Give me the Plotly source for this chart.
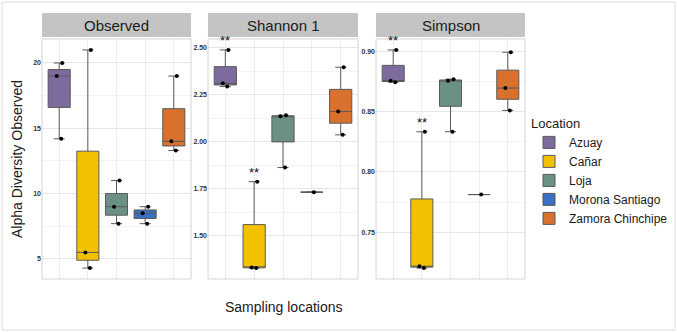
import plotly.graph_objects as go

W, H = 677, 332

locations = ["Azuay", "Cañar", "Loja", "Morona Santiago", "Zamora Chinchipe"]
colors = ["#7D6B9D", "#F2C200", "#6B9186", "#3A6FC4", "#D8702E"]
panels = ["Observed", "Shannon 1", "Simpson"]

observed = {
    "Azuay": [14.2, 19.0, 20.0],
    "Cañar": [4.3, 5.5, 21.0],
    "Loja": [7.7, 9.0, 11.0],
    "Morona Santiago": [7.7, 8.5, 9.0],
    "Zamora Chinchipe": [13.3, 14.0, 19.0],
}
shannon = {
    "Azuay": [2.293, 2.31, 2.488],
    "Cañar": [1.327, 1.33, 1.787],
    "Loja": [1.862, 2.135, 2.14],
    "Morona Santiago": [1.731],
    "Zamora Chinchipe": [2.036, 2.16, 2.396],
}
simpson = {
    "Azuay": [0.8746, 0.8757, 0.9014],
    "Cañar": [0.7201, 0.7217, 0.8334],
    "Loja": [0.8334, 0.8757, 0.8771],
    "Morona Santiago": [0.7812],
    "Zamora Chinchipe": [0.8511, 0.8697, 0.8995],
}
panel_data = [observed, shannon, simpson]
tick_vals = [[5, 10, 15, 20], [1.50, 1.75, 2.00, 2.25, 2.50], [0.75, 0.80, 0.85, 0.90]]
tick_fmt = ["d", ".2f", ".2f"]
signif = {1: ["Azuay", "Cañar"], 2: ["Azuay", "Cañar"]}

# pixel layout
px_x = [(42, 191), (208, 358), (376, 525)]
plot_top, plot_bot = 39, 279
strip_top, strip_bot = 13, 37

def fx(p):
    return p / W

def fy(p):
    return 1 - p / H

fig = go.Figure()

for pi, data in enumerate(panel_data):
    xa = "x" if pi == 0 else f"x{pi+1}"
    ya = "y" if pi == 0 else f"y{pi+1}"
    for li, loc in enumerate(locations):
        vals = data[loc]
        fig.add_trace(go.Box(
            x=[loc] * len(vals), y=vals, name=loc,
            xaxis=xa, yaxis=ya,
            legendgroup=loc, showlegend=(pi == 0),
            fillcolor=colors[li],
            line=dict(color="#5a5a5a", width=1),
            marker=dict(color="black", size=4),
            boxpoints="all", jitter=0.35, pointpos=0,
            quartilemethod="inclusive", width=0.77,
            hoverinfo="y",
        ))
    allv = [v for loc in locations for v in data[loc]]
    lo, hi = min(allv), max(allv)
    pad = 0.05 * (hi - lo)
    x0, x1 = px_x[pi]
    axis_common = dict(showline=False, zeroline=False, automargin=False)
    fig.layout[("xaxis" if pi == 0 else f"xaxis{pi+1}")] = dict(
        domain=[fx(x0), fx(x1)], anchor=ya, type="category",
        categoryorder="array", categoryarray=locations,
        range=[-0.6, 4.6], showticklabels=False, ticks="",
        showgrid=True, gridcolor="#ececec", gridwidth=1, **axis_common)
    fig.layout[("yaxis" if pi == 0 else f"yaxis{pi+1}")] = dict(
        domain=[fy(plot_bot), fy(plot_top)], anchor=xa,
        range=[lo - pad, hi + pad], tickvals=tick_vals[pi], tickformat=tick_fmt[pi],
        tickfont=dict(size=7, color="#333333", family="Liberation Sans", weight="bold"),
        ticks="", ticklen=0, showgrid=True, gridcolor="#e6e6e6", gridwidth=1,
        minor=dict(showgrid=True, gridcolor="#f4f4f4", gridwidth=1,
                   tickvals=[(a + b) / 2 for a, b in zip(tick_vals[pi][:-1], tick_vals[pi][1:])]),
        **axis_common)
    # panel border
    fig.add_shape(type="rect", xref="paper", yref="paper",
                  x0=fx(x0), x1=fx(x1), y0=fy(plot_bot), y1=fy(plot_top),
                  line=dict(color="#d4d4d4", width=1), fillcolor="rgba(0,0,0,0)", layer="above")
    # strip
    fig.add_shape(type="rect", xref="paper", yref="paper",
                  x0=fx(x0), x1=fx(x1), y0=fy(strip_bot), y1=fy(strip_top),
                  line=dict(width=0), fillcolor="#c4c4c4")
    fig.add_annotation(xref="paper", yref="paper", x=(fx(x0) + fx(x1)) / 2,
                       y=(fy(strip_bot) + fy(strip_top)) / 2, text=panels[pi],
                       xanchor="center", yanchor="middle",
                       showarrow=False, font=dict(size=15, color="#1a1a1a", family="Liberation Sans"))
    for loc in signif.get(pi, []):
        fig.add_annotation(xref=xa, yref=ya, x=loc, y=max(data[loc]), text="**",
                           showarrow=False, yshift=9, xanchor="center", yanchor="middle",
                           font=dict(size=13, color="#111111", family="Liberation Sans"))

# outer frame
fig.add_shape(type="rect", xref="paper", yref="paper",
              x0=fx(2), x1=fx(675), y0=fy(330), y1=fy(2),
              line=dict(color="#dcdcdc", width=1), fillcolor="rgba(0,0,0,0)")

fig.add_annotation(xref="paper", yref="paper", x=fx(17), y=fy(159), text="Alpha Diversity Observed",
                   textangle=-90, showarrow=False, xanchor="center", yanchor="middle",
                   font=dict(size=14, color="#1a1a1a", family="Liberation Sans"))
fig.add_annotation(xref="paper", yref="paper", x=fx(284), y=fy(307), text="Sampling locations",
                   showarrow=False, xanchor="center", yanchor="middle",
                   font=dict(size=14, color="#1a1a1a", family="Liberation Sans"))

fig.update_layout(
    width=W, height=H, margin=dict(l=0, r=0, t=0, b=0, autoexpand=False),
    paper_bgcolor="white", plot_bgcolor="white",
    font=dict(family="Liberation Sans"),
    boxmode="overlay",
    legend=dict(x=fx(529), y=fy(111), xanchor="left", yanchor="top",
                title=dict(text="Location", font=dict(size=13, color="#1a1a1a")),
                font=dict(size=12, color="#1a1a1a"), tracegroupgap=0,
                bgcolor="rgba(0,0,0,0)"),
)

fig.write_html("out.html", config={"displayModeBar": False},
               post_script="document.body.style.margin='0';document.body.style.overflow='hidden';")
